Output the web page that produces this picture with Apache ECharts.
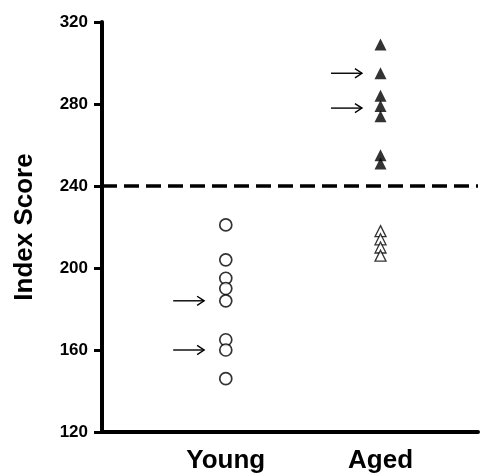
<!DOCTYPE html>
<html>
<head>
<meta charset="utf-8">
<script src="https://cdn.jsdelivr.net/npm/echarts@6/dist/echarts.min.js"></script>
<style>
  html, body { margin: 0; padding: 0; background: #fff; }
  #chart { width: 481px; height: 475px; }
</style>
</head>
<body>
<div id="chart"></div>
<script>
// groups and where they sit on the (hidden) x scale
var groups = ["Young", "Aged"];
var groupX = [0.8, 1.8];

// index scores
var young = [221, 204, 195, 190, 184, 165, 160, 146];
var agedAbove = [309, 295, 284, 279, 274, 255, 251];
var agedBelow = [218, 214, 210, 206];

var cutoff = 240;
var yTicks = [120, 160, 200, 240, 280, 320];

// arrows: [x start, x end, score]
var arrows = [
  [0.46, 0.66, 184],
  [0.46, 0.66, 160],
  [1.48, 1.68, 295],
  [1.48, 1.68, 278]
];

function pts(x, arr) {
  return arr.map(function (v) { return [x, v]; });
}

var chart = echarts.init(document.getElementById("chart"));
var font = "'Liberation Sans', Arial, sans-serif";

chart.setOption({
  animation: false,
  grid: { left: 102, right: 0, top: 22, bottom: 43 },
  xAxis: {
    type: "value",
    min: 0,
    max: 2.43,
    interval: 0.1,
    splitLine: { show: false },
    axisTick: { show: false },
    axisLine: { lineStyle: { color: "#000", width: 4 } },
    axisLabel: {
      color: "#000",
      fontFamily: font,
      fontWeight: "bold",
      fontSize: 26,
      margin: 16,
      formatter: function (v) {
        for (var i = 0; i < groupX.length; i++) {
          if (Math.abs(v - groupX[i]) < 1e-6) return groups[i];
        }
        return "";
      }
    }
  },
  yAxis: {
    type: "value",
    min: yTicks[0],
    max: yTicks[yTicks.length - 1],
    interval: 40,
    name: "Index Score",
    nameLocation: "middle",
    nameGap: 64,
    nameTextStyle: { color: "#000", fontFamily: font, fontWeight: "bold", fontSize: 26 },
    splitLine: { show: false },
    axisLine: { lineStyle: { color: "#000", width: 4 } },
    axisTick: { length: 8, lineStyle: { color: "#000", width: 3 } },
    axisLabel: { color: "#000", fontFamily: font, fontWeight: "bold", fontSize: 17, margin: 14 }
  },
  series: [
    {
      name: "Young",
      type: "scatter",
      symbol: "circle",
      symbolSize: 12,
      itemStyle: { color: "#fff", borderColor: "#000", borderWidth: 1.7 },
      data: pts(groupX[0], young),
      markLine: {
        silent: true,
        symbol: "none",
        label: { show: false },
        lineStyle: { color: "#000", width: 3.5, type: [15, 7] },
        data: [{ yAxis: cutoff }]
      }
    },
    {
      name: "Aged below",
      type: "scatter",
      symbol: "triangle",
      symbolSize: 11,
      itemStyle: { color: "#fff", borderColor: "#000", borderWidth: 1.3 },
      data: pts(groupX[1], agedBelow)
    },
    {
      name: "Aged above",
      type: "scatter",
      symbol: "triangle",
      symbolSize: 12,
      itemStyle: { color: "#000" },
      data: pts(groupX[1], agedAbove)
    },
    {
      name: "arrows",
      type: "custom",
      silent: true,
      data: arrows,
      renderItem: function (params, api) {
        var a = api.coord([api.value(0), api.value(2)]);
        var b = api.coord([api.value(1), api.value(2)]);
        var h = 7;
        return {
          type: "group",
          children: [
            { type: "line", shape: { x1: a[0], y1: a[1], x2: b[0], y2: b[1] },
              style: { stroke: "#000", lineWidth: 1.4 } },
            { type: "polyline", shape: { points: [[b[0] - h, b[1] - h * 0.65], [b[0], b[1]], [b[0] - h, b[1] + h * 0.65]] },
              style: { stroke: "#000", lineWidth: 1.4, fill: null } }
          ]
        };
      }
    }
  ]
});
</script>
</body>
</html>
